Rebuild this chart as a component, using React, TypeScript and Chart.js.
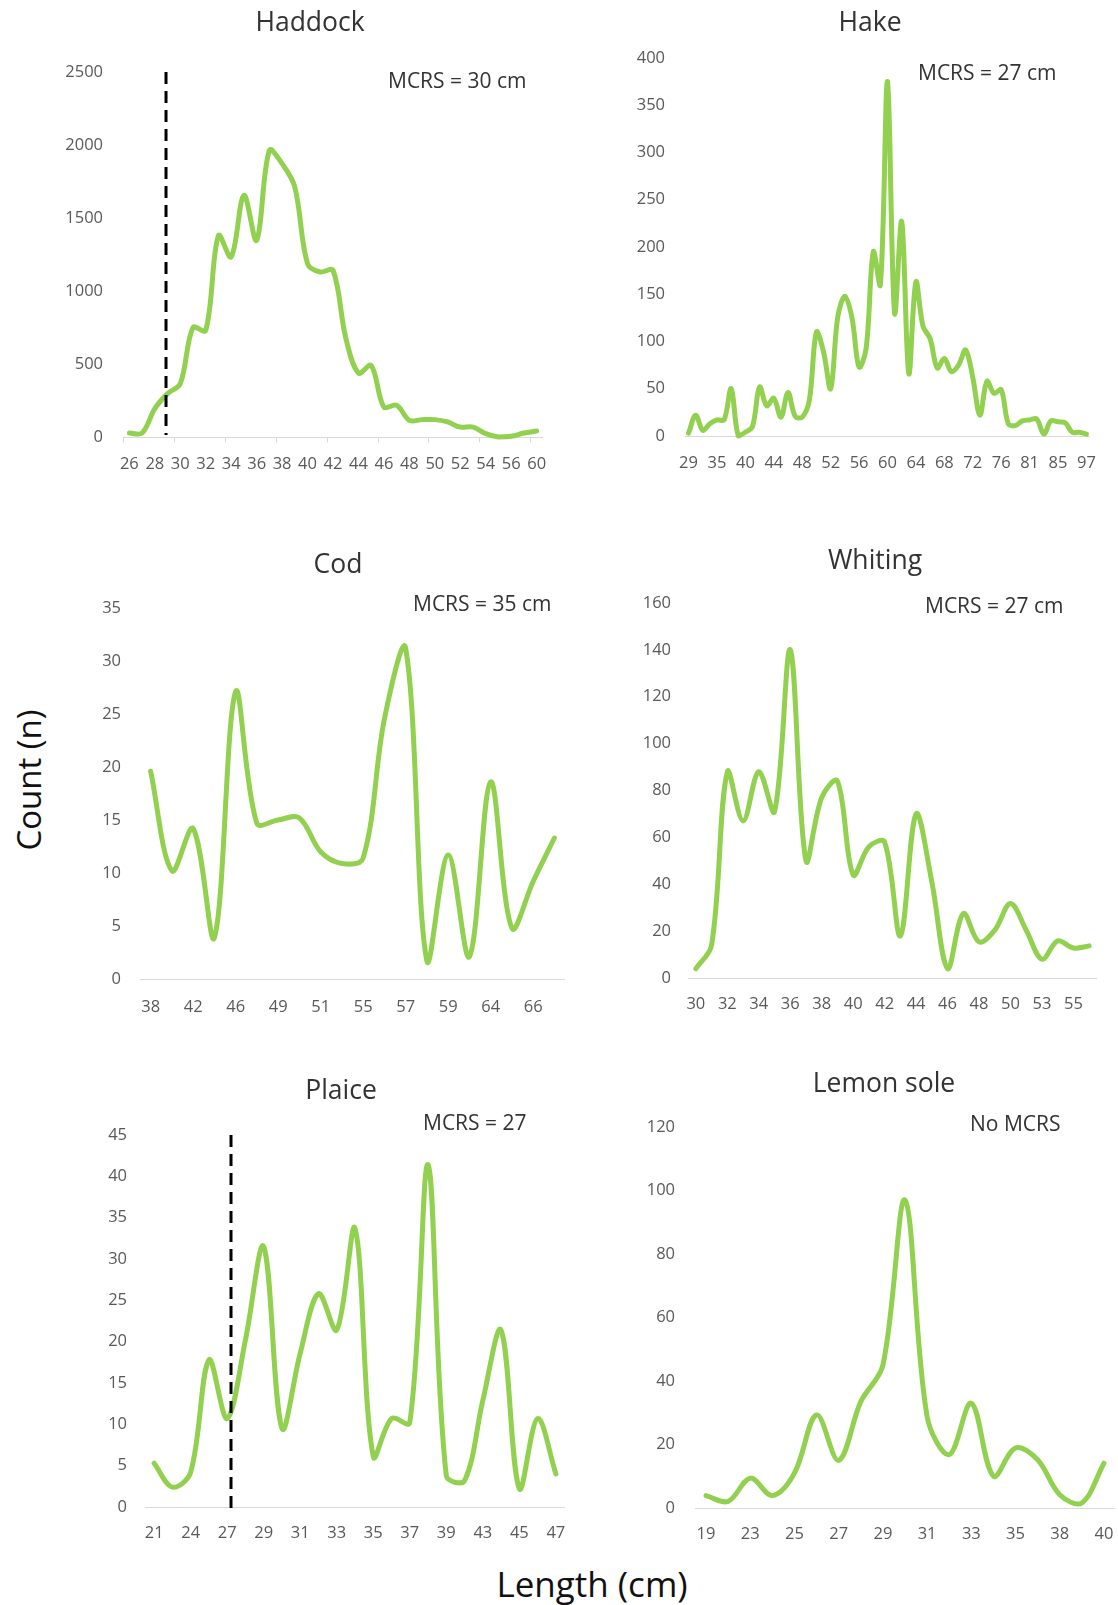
import React, { useEffect, useRef } from 'react';
import { Chart, registerables } from 'chart.js';

Chart.register(...registerables);

// ---------------- DATA ----------------
const haddockLengths = ['26','27','28','29','30','31','32','33','34','35','36','37','38','39','40','41','42','43','44','45','46','47','48','49','50','51','52','53','54','55','56','57','60'];
const haddockCounts = [27, 27, 194, 297, 365, 750, 730, 1380, 1233, 1655, 1347, 1963, 1872, 1712, 1187, 1130, 1142, 680, 438, 490, 205, 217, 114, 119, 119, 103, 68, 68, 23, 0, 5, 27, 41];

const hakeLengths = ['29','31','32','33','35','36','37','38','40','41','42','43','44','45','46','47','48','49','50','51','52','53','54','55','56','57','58','59','60','61','62','63','64','65','66','67','68','69','70','71','72','73','74','75','76','77','78','79','81','82','83','84','85','86','88','92','97'];
const hakeCounts = [3, 22, 6, 13, 17, 17, 50, 0, 4, 10, 52, 32, 40, 20, 46, 21, 20, 38, 110, 89, 50, 126, 148, 125, 73, 93, 195, 160, 375, 130, 227, 66, 163, 116, 103, 72, 82, 68, 75, 91, 62, 22, 58, 45, 49, 13, 11, 16, 17, 18, 2, 16, 15, 14, 4, 4, 2];

const codLengths = ['38','40','42','44','46','48','49','50','51','53','55','56','57','58','59','61','64','65','66','68'];
const codCounts = [19.6, 10.2, 14.2, 3.9, 27.1, 14.7, 15.0, 15.2, 12.0, 10.9, 11.4, 24.5, 31.2, 1.7, 11.7, 2.1, 18.6, 4.8, 9.2, 13.3];

const whitingLengths = ['30','31','32','33','34','35','36','37','38','39','40','41','42','43','44','45','46','47','48','49','50','52','53','54','55','56'];
const whitingCounts = [4, 14, 88, 67, 88, 71, 140, 50, 77, 84, 44, 56, 58, 18, 70, 41, 4, 27.5, 15.4, 20.4, 31.8, 20.4, 8, 15.8, 12.8, 13.7];

const plaiceLengths = ['21','23','24','26','27','28','29','30','31','32','33','34','35','36','37','38','39','41','43','44','45','46','47'];
const plaiceCounts = [5.3, 2.4, 4.2, 17.8, 10.7, 20.2, 31.5, 9.5, 18.6, 25.8, 21.4, 33.7, 6.1, 10.7, 10.2, 41.4, 3.8, 3.2, 12.9, 21.4, 2.2, 10.7, 4.0];

const lemonSoleLengths = ['19','22','23','24','25','26','27','28','29','30','31','32','33','34','35','36','38','39','40'];
const lemonSoleCounts = [3.9, 2.1, 9.4, 3.9, 11, 29.3, 15, 33.5, 45, 97, 28.8, 16.8, 33, 10, 18.9, 15.2, 4.2, 1.6, 14.1];

const panelTitles = ['Haddock', 'Hake', 'Cod', 'Whiting', 'Plaice', 'Lemon sole'];
const panelNotes = ['MCRS = 30 cm', 'MCRS = 27 cm', 'MCRS = 35 cm', 'MCRS = 27 cm', 'MCRS = 27', 'No MCRS'];
const yMaxes = [2500, 400, 35, 160, 45, 120];
const ySteps = [500, 50, 5, 20, 5, 20];
const labelEvery = [2, 4, 2, 2, 2, 2];
// MCRS marker position, in category-index units (null = none)
const mcrsMarkerIndex = [2.88, null, null, null, 4.21, null];

const yAxisTitle = 'Count (n)';
const xAxisTitle = 'Length (cm)';

// ---------------- LAYOUT / STYLE ----------------
const FONT = "'Open Sans', 'Noto Sans', sans-serif";
const GREEN = '#92d050';
const TICK_COLOR = '#595959';
const TEXT_COLOR = '#333333';
const AXIS_COLOR = '#d9d9d9';

type Layout = {
  l: number; r: number; t: number; b: number;
  yGap: number; xPad: number;
  title: [number, number]; note: [number, number];
  dashBottom?: number; ticksEvery?: number;
};

const layouts: Layout[] = [
  { l: 123, r: 543, t: 72, b: 437, yGap: 20, xPad: 17, title: [310, 22], note: [388, 81], dashBottom: -2, ticksEvery: 4 },
  { l: 685, r: 1090, t: 58, b: 436, yGap: 20, xPad: 17, title: [870, 22], note: [918, 73] },
  { l: 140, r: 565, t: 608, b: 979, yGap: 19, xPad: 18, title: [338, 564], note: [413, 604] },
  { l: 688, r: 1097, t: 603, b: 978, yGap: 17, xPad: 16, title: [875, 560], note: [925, 606] },
  { l: 145, r: 565, t: 1135, b: 1507, yGap: 18, xPad: 16, title: [341, 1090], note: [423, 1123], dashBottom: 5 },
  { l: 695, r: 1115, t: 1127, b: 1508, yGap: 20, xPad: 16, title: [884, 1083], note: [970, 1124] },
];

const W_Y = 70;
const H_X = 50;
const PAD_T = 40;
const PAD_R = 40;

const allLabels = [haddockLengths, hakeLengths, codLengths, whitingLengths, plaiceLengths, lemonSoleLengths];
const allCounts = [haddockCounts, hakeCounts, codCounts, whitingCounts, plaiceCounts, lemonSoleCounts];

function PanelChart({ idx }: { idx: number }) {
  const ref = useRef<HTMLCanvasElement>(null);
  const lay = layouts[idx];
  const width = W_Y + (lay.r - lay.l) + PAD_R;
  const height = PAD_T + (lay.b - lay.t) + H_X;

  useEffect(() => {
    if (!ref.current) return;
    const every = labelEvery[idx];
    const marker = mcrsMarkerIndex[idx];

    const decor = {
      id: 'decor' + idx,
      beforeDatasetsDraw(chart: any) {
        const { ctx, chartArea } = chart;
        const ys = chart.scales.y;
        const xs = chart.scales.x;
        const y0 = Math.round(ys.getPixelForValue(0)) + 0.5;
        ctx.save();
        ctx.strokeStyle = AXIS_COLOR;
        ctx.lineWidth = 1;
        ctx.beginPath();
        ctx.moveTo(chartArea.left, y0);
        ctx.lineTo(chartArea.right, y0);
        ctx.stroke();
        if (lay.ticksEvery) {
          const n = allLabels[idx].length;
          for (let k = 0; k < n; k += lay.ticksEvery) {
            const x = Math.round(xs.getPixelForValue(k - 0.5)) + 0.5;
            ctx.beginPath();
            ctx.moveTo(x, y0);
            ctx.lineTo(x, y0 + 5);
            ctx.stroke();
          }
        }
        ctx.restore();
      },
      afterDatasetsDraw(chart: any) {
        if (marker === null || marker === undefined) return;
        const { ctx } = chart;
        const ys = chart.scales.y;
        const xs = chart.scales.x;
        const x = xs.getPixelForValue(marker);
        ctx.save();
        ctx.strokeStyle = '#000000';
        ctx.lineWidth = 3;
        ctx.setLineDash([12, 7]);
        ctx.beginPath();
        ctx.moveTo(x, ys.getPixelForValue(yMaxes[idx]));
        ctx.lineTo(x, ys.getPixelForValue(0) + (lay.dashBottom || 0));
        ctx.stroke();
        ctx.restore();
      },
    };

    const chart = new Chart(ref.current, {
      type: 'line',
      data: {
        labels: allLabels[idx],
        datasets: [
          {
            data: allCounts[idx],
            borderColor: GREEN,
            backgroundColor: GREEN,
            borderWidth: 5,
            pointRadius: 0,
            pointHoverRadius: 0,
            tension: 0.35,
            fill: false,
            clip: false as any,
            borderCapStyle: 'round',
            borderJoinStyle: 'round',
          } as any,
        ],
      },
      options: {
        animation: false,
        responsive: false,
        maintainAspectRatio: false,
        events: [],
        layout: { padding: { top: PAD_T, right: PAD_R, left: 0, bottom: 0 } },
        plugins: {
          legend: { display: false },
          tooltip: { enabled: false },
          title: { display: false },
        },
        scales: {
          x: {
            type: 'category',
            offset: true,
            grid: { display: false, drawTicks: false },
            border: { display: false },
            ticks: {
              autoSkip: false,
              maxRotation: 0,
              minRotation: 0,
              padding: lay.xPad,
              color: TICK_COLOR,
              font: { family: FONT, size: 16.5 },
              callback: function (this: any, val: any, i: number) {
                return i % every === 0 ? this.getLabelForValue(val) : '';
              },
            },
            afterFit: (s: any) => {
              s.height = H_X;
            },
          },
          y: {
            min: 0,
            max: yMaxes[idx],
            grid: { display: false, drawTicks: false },
            border: { display: false },
            ticks: {
              stepSize: ySteps[idx],
              padding: lay.yGap,
              color: TICK_COLOR,
              font: { family: FONT, size: 16.5 },
              callback: (v: any) => String(v),
            },
            afterFit: (s: any) => {
              s.width = W_Y;
            },
          },
        },
      } as any,
      plugins: [decor],
    });
    return () => chart.destroy();
  }, [idx]);

  return (
    <canvas
      ref={ref}
      width={width}
      height={height}
      style={{
        position: 'absolute',
        left: lay.l - W_Y,
        top: lay.t - PAD_T,
        width,
        height,
      }}
    />
  );
}

export default function App() {
  return (
    <div
      style={{
        position: 'absolute',
        left: 0,
        top: 0,
        width: 1118,
        height: 1605,
        overflow: 'hidden',
        background: '#ffffff',
        fontFamily: FONT,
      }}
    >
      {layouts.map((lay, i) => (
        <React.Fragment key={i}>
          <PanelChart idx={i} />
          <div
            style={{
              position: 'absolute',
              left: lay.title[0],
              top: lay.title[1],
              transform: 'translate(-50%, -53%)',
              fontSize: 26.5,
              lineHeight: 1,
              color: TEXT_COLOR,
              whiteSpace: 'nowrap',
            }}
          >
            {panelTitles[i]}
          </div>
          <div
            style={{
              position: 'absolute',
              left: lay.note[0],
              top: lay.note[1],
              transform: 'translate(0, -53%)',
              fontSize: 21,
              lineHeight: 1,
              color: TEXT_COLOR,
              whiteSpace: 'nowrap',
            }}
          >
            {panelNotes[i]}
          </div>
        </React.Fragment>
      ))}
      <div
        style={{
          position: 'absolute',
          left: 28,
          top: 780,
          transform: 'translate(-50%, -50%) rotate(-90deg)',
          fontSize: 33,
          lineHeight: 1,
          color: '#111111',
          whiteSpace: 'nowrap',
        }}
      >
        {yAxisTitle}
      </div>
      <div
        style={{
          position: 'absolute',
          left: 592,
          top: 1583,
          transform: 'translate(-50%, -50%)',
          fontSize: 35,
          lineHeight: 1,
          color: '#111111',
          whiteSpace: 'nowrap',
        }}
      >
        {xAxisTitle}
      </div>
    </div>
  );
}
